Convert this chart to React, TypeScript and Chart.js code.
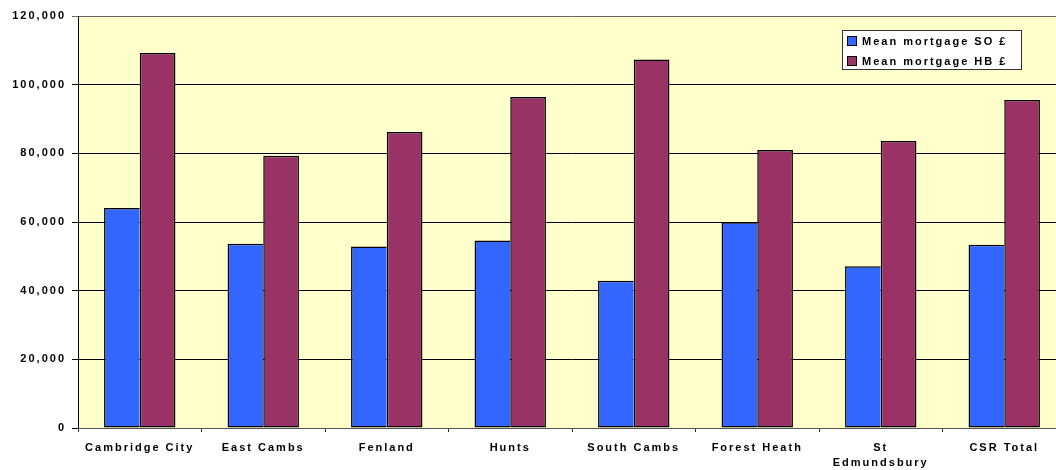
import React, { useEffect, useRef } from "react";
import { Chart, registerables } from "chart.js";

Chart.register(...registerables);

// Mean mortgage by district
const categories: (string | string[])[] = [
  "Cambridge City",
  "East Cambs",
  "Fenland",
  "Hunts",
  "South Cambs",
  "Forest Heath",
  ["St", "Edmundsbury"],
  "CSR Total",
];
const meanSO = [64100, 53700, 52900, 54600, 42900, 59900, 47100, 53400];
const meanHB = [109200, 79300, 86200, 96400, 107300, 81000, 83600, 95500];
const seriesLabels = ["Mean mortgage SO £", "Mean mortgage HB £"];
const seriesColors = ["#3366FF", "#993366"];
const yMax = 120000;
const yStep = 20000;

const FONT_FAMILY = "'Liberation Sans', Arial, Helvetica, sans-serif";
const TEXT_COLOR = "#000000";
const PLOT_BG = "#FFFFCC";

const setSpacing = (chart: Chart) => {
  (chart.ctx as any).letterSpacing = "2px";
};

// Wide letter spacing on every label
const spacingPlugin = {
  id: "spacing",
  afterInit: setSpacing,
  beforeUpdate: setSpacing,
  beforeLayout: setSpacing,
  beforeDraw: setSpacing,
};

// Pale yellow plot background
const plotAreaPlugin = {
  id: "plotArea",
  beforeDraw(chart: Chart) {
    const { ctx, chartArea } = chart;
    ctx.save();
    ctx.fillStyle = "#FFFFFF";
    ctx.fillRect(0, 0, chart.width, chart.height);
    ctx.fillStyle = PLOT_BG;
    ctx.fillRect(
      chartArea.left,
      chartArea.top,
      chartArea.right - chartArea.left,
      chartArea.bottom - chartArea.top
    );
    ctx.restore();
  },
};

// Boxed legend in the upper right of the plot
const boxedLegendPlugin = {
  id: "boxedLegend",
  afterDraw(chart: Chart) {
    const { ctx } = chart;
    const x = 842.5;
    const y = 30.5;
    const w = 179;
    const h = 39;
    ctx.save();
    (ctx as any).letterSpacing = "2px";
    ctx.fillStyle = "#FFFFFF";
    ctx.strokeStyle = "#333333";
    ctx.lineWidth = 1;
    ctx.fillRect(x, y, w, h);
    ctx.strokeRect(x, y, w, h);
    chart.data.datasets.forEach((ds, i) => {
      const rowY = 41 + i * 20;
      ctx.fillStyle = ds.backgroundColor as string;
      ctx.fillRect(847.5, rowY - 4.5, 9, 9);
      ctx.strokeStyle = "#000000";
      ctx.strokeRect(847.5, rowY - 4.5, 9, 9);
      ctx.fillStyle = TEXT_COLOR;
      ctx.font = `bold 11px ${FONT_FAMILY}`;
      ctx.textBaseline = "middle";
      ctx.textAlign = "left";
      ctx.fillText(ds.label as string, 862, rowY + 0.5);
    });
    ctx.restore();
  },
};

export default function App() {
  const canvasRef = useRef<HTMLCanvasElement | null>(null);

  useEffect(() => {
    if (!canvasRef.current) return;
    const chart = new Chart(canvasRef.current, {
      type: "bar",
      data: {
        labels: categories,
        datasets: [
          {
            label: seriesLabels[0],
            data: meanSO,
            backgroundColor: seriesColors[0],
            borderColor: "#000000",
            borderWidth: 1.5,
            // the neighbouring HB bar supplies the shared edge
            borderSkipped: "right",
          },
          {
            label: seriesLabels[1],
            data: meanHB,
            backgroundColor: seriesColors[1],
            borderColor: "#000000",
            borderWidth: 1.5,
            borderSkipped: false,
          },
        ],
      },
      options: {
        responsive: false,
        animation: false,
        devicePixelRatio: 1,
        layout: { padding: { top: 16, left: 0, right: 0, bottom: 0 } },
        datasets: {
          bar: { categoryPercentage: 0.578, barPercentage: 1 },
        },
        plugins: {
          legend: { display: false },
          tooltip: { enabled: false },
        },
        scales: {
          x: {
            afterFit(scale: any) {
              scale.height = 42;
            },
            border: { display: true, color: "#555555", width: 1 },
            grid: {
              offset: true,
              drawOnChartArea: false,
              drawTicks: true,
              tickLength: 4,
              color: "#333333",
            },
            ticks: {
              autoSkip: false,
              maxRotation: 0,
              minRotation: 0,
              padding: 8,
              color: TEXT_COLOR,
              font: {
                family: FONT_FAMILY,
                size: 11,
                weight: "bold",
                lineHeight: 1.4,
              },
            },
          },
          y: {
            min: 0,
            max: yMax,
            afterFit(scale: any) {
              scale.width = 78;
            },
            border: { display: true, color: "#000000", width: 1 },
            grid: {
              color: (c: any) =>
                c.tick && c.tick.value === yMax ? "#666666" : "#000000",
              lineWidth: 1,
              drawTicks: true,
              tickLength: 6,
            },
            ticks: {
              stepSize: yStep,
              padding: 6,
              color: TEXT_COLOR,
              font: { family: FONT_FAMILY, size: 11, weight: "bold" },
              callback: (v: any) => Number(v).toLocaleString("en-GB"),
            },
          },
        },
      },
      plugins: [spacingPlugin, plotAreaPlugin, boxedLegendPlugin],
    });
    return () => chart.destroy();
  }, []);

  return (
    <div
      style={{
        position: "fixed",
        left: 0,
        top: 0,
        width: 1056,
        height: 470,
        overflow: "hidden",
        background: "#FFFFFF",
      }}
    >
      <canvas
        ref={canvasRef}
        width={1066}
        height={470}
        style={{ display: "block", width: 1066, height: 470 }}
      />
    </div>
  );
}
